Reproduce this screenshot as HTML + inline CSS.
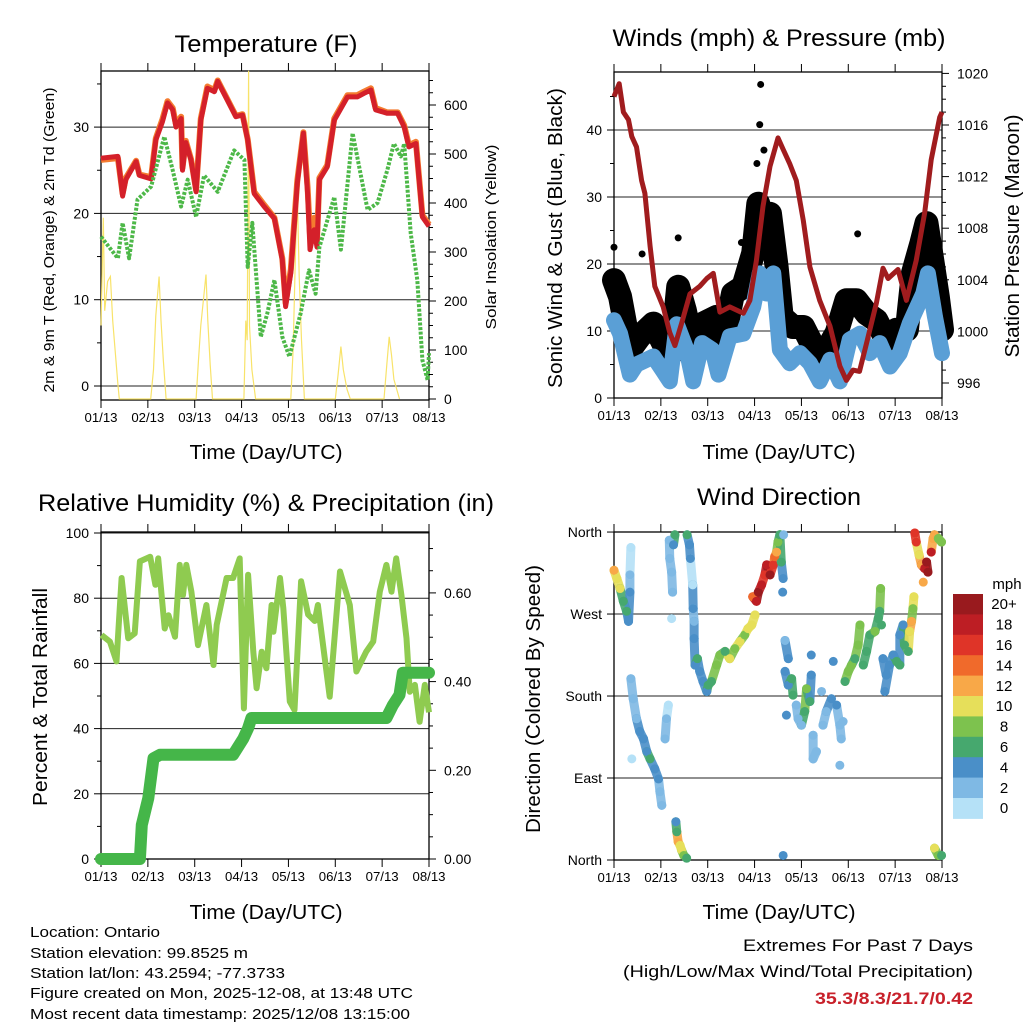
<!DOCTYPE html>
<html><head><meta charset="utf-8"><style>
html,body{margin:0;padding:0;background:#fff;}
svg{display:block;font-family:"Liberation Sans",Arial,sans-serif;}
</style></head><body>
<svg id="chart" xmlns="http://www.w3.org/2000/svg" width="1024" height="1024" viewBox="0 0 1024 1024">
<rect width="1024" height="1024" fill="#fff"/>
<g id="layer"></g>
<g id="texts" font-family="Liberation Sans, Arial, sans-serif" fill="#000">
 <text x="266" y="52" font-size="24" text-anchor="middle" textLength="183" lengthAdjust="spacingAndGlyphs">Temperature (F)</text>
 <text x="779" y="46" font-size="24" text-anchor="middle" textLength="333" lengthAdjust="spacingAndGlyphs">Winds (mph) &amp; Pressure (mb)</text>
 <text x="266" y="511" font-size="24" text-anchor="middle" textLength="456" lengthAdjust="spacingAndGlyphs">Relative Humidity (%) &amp; Precipitation (in)</text>
 <text x="779" y="505" font-size="24" text-anchor="middle" textLength="164" lengthAdjust="spacingAndGlyphs">Wind Direction</text>
 <text x="266" y="459" font-size="20" text-anchor="middle" textLength="153" lengthAdjust="spacingAndGlyphs">Time (Day/UTC)</text>
 <text x="779" y="459" font-size="20" text-anchor="middle" textLength="153" lengthAdjust="spacingAndGlyphs">Time (Day/UTC)</text>
 <text x="266" y="919" font-size="20" text-anchor="middle" textLength="153" lengthAdjust="spacingAndGlyphs">Time (Day/UTC)</text>
 <text x="779" y="919" font-size="20" text-anchor="middle" textLength="153" lengthAdjust="spacingAndGlyphs">Time (Day/UTC)</text>
 <text transform="translate(54,240) rotate(-90)" font-size="15" text-anchor="middle" textLength="305" lengthAdjust="spacingAndGlyphs">2m &amp; 9m T (Red, Orange) &amp; 2m Td (Green)</text>
 <text transform="translate(496,237) rotate(-90)" font-size="15" text-anchor="middle" textLength="185" lengthAdjust="spacingAndGlyphs">Solar Insolation (Yellow)</text>
 <text transform="translate(562,238) rotate(-90)" font-size="20" text-anchor="middle" textLength="300" lengthAdjust="spacingAndGlyphs">Sonic Wind &amp; Gust (Blue, Black)</text>
 <text transform="translate(1019,236) rotate(-90)" font-size="20" text-anchor="middle" textLength="243" lengthAdjust="spacingAndGlyphs">Station Pressure (Maroon)</text>
 <text transform="translate(47,697) rotate(-90)" font-size="20" text-anchor="middle" textLength="218" lengthAdjust="spacingAndGlyphs">Percent &amp; Total Rainfall</text>
 <text transform="translate(540,699) rotate(-90)" font-size="20" text-anchor="middle" textLength="268" lengthAdjust="spacingAndGlyphs">Direction (Colored By Speed)</text>
 <text x="30" y="937" font-size="15" textLength="130" lengthAdjust="spacingAndGlyphs">Location: Ontario</text>
 <text x="30" y="958" font-size="15" textLength="218" lengthAdjust="spacingAndGlyphs">Station elevation: 99.8525 m</text>
 <text x="30" y="978" font-size="15" textLength="255" lengthAdjust="spacingAndGlyphs">Station lat/lon: 43.2594; -77.3733</text>
 <text x="30" y="998" font-size="15" textLength="383" lengthAdjust="spacingAndGlyphs">Figure created on Mon, 2025-12-08, at 13:48 UTC</text>
 <text x="30" y="1019" font-size="15" textLength="380" lengthAdjust="spacingAndGlyphs">Most recent data timestamp: 2025/12/08 13:15:00</text>
 <text x="973" y="951" font-size="17" text-anchor="end" textLength="230" lengthAdjust="spacingAndGlyphs">Extremes For Past 7 Days</text>
 <text x="973" y="977" font-size="17" text-anchor="end" textLength="350" lengthAdjust="spacingAndGlyphs">(High/Low/Max Wind/Total Precipitation)</text>
 <text x="973" y="1004" font-size="17" font-weight="bold" fill="#c8202a" text-anchor="end" textLength="158" lengthAdjust="spacingAndGlyphs">35.3/8.3/21.7/0.42</text>
 <text x="1007" y="589" font-size="15" text-anchor="middle">mph</text>
</g>
</svg>
<script>
// ---------- DATA ----------
const xTickLabels = ["01/13","02/13","03/13","04/13","05/13","06/13","07/13","08/13"];
const tempTicks = [0,10,20,30];
const solarTicks = [0,100,200,300,400,500,600];
const windTicks = [0,10,20,30,40];
const pressTicks = [996,1000,1004,1008,1012,1016,1020];
const rhTicks = [0,20,40,60,80,100];
const precipTicks = [0.00,0.20,0.40,0.60];
const dirTicks = [0,90,180,270,360];
const dirLabels = ["North","East","South","West","North"];
const speedBins = ["0","2","4","6","8","10","12","14","16","18","20+"];
const speedColors = ["#b5e1f7","#7fb9e4","#4a8fc8","#46a86e","#7dc24e","#e6df5a","#f8a848","#f06a2b","#df3428","#bd1e24","#991a1e"];

const tempT = [0,.36,.46,.53,.75,.82,1.07,1.17,1.31,1.42,1.53,1.6,1.71,1.74,1.81,1.92,2.03,2.13,2.27,2.42,2.49,2.7,2.88,3.02,3.13,3.27,3.48,3.70,3.87,3.94,4.05,4.19,4.32,4.41,4.46,4.55,4.61,4.66,4.83,4.98,5.26,5.47,5.61,5.76,5.86,6.11,6.33,6.47,6.57,6.72,6.86,7.0];
const temp2m = [26.4,26.6,22.0,23.9,26.0,24.4,24.0,28.5,30.6,32.8,32.0,30.0,31.0,25.0,28.2,26.2,22.5,30.8,34.5,34.1,35.3,33.1,31.2,31.4,28.5,22.3,20.8,19.4,14.6,9.2,13.1,23.5,29.3,22.3,15.8,18.1,16.1,23.9,25.4,30.8,33.5,33.5,33.9,34.3,32.0,31.6,31.6,30.0,27.7,28.1,19.6,18.5];
const temp9m = [26.2,26.4,22.3,24.1,26.1,24.5,24.2,28.7,30.9,33.0,32.2,30.3,31.2,25.3,28.4,26.3,22.7,31.0,34.7,34.3,35.4,33.2,31.3,31.5,28.6,22.5,21.0,19.5,14.8,9.6,13.5,23.8,29.4,23.0,17.5,19.5,17.0,24.1,25.6,31.0,33.7,33.7,34.1,34.5,32.2,31.7,31.7,30.2,27.9,28.3,19.8,18.7];
const dewT = [0,.36,.46,.6,.78,1.07,1.35,1.53,1.71,1.85,2.03,2.2,2.49,2.84,3.06,3.13,3.23,3.41,3.55,3.70,3.87,4.02,4.26,4.44,4.58,4.66,4.98,5.12,5.37,5.69,5.9,6.11,6.25,6.4,6.47,6.61,6.75,6.86,6.97,7.0];
const dewPt = [17.3,14.8,18.9,14.8,21.6,23.1,28.9,25.0,20.8,23.9,19.6,24.4,22.5,27.3,26.2,13.8,18.9,5.7,8.4,12.3,5.7,3.4,8.4,13.4,10.7,16.1,21.9,15.8,29.3,20.4,21.2,25.0,28.1,26.6,28.1,17.7,12.3,3.0,0.7,3.8];
const solarT = [0,.05,.08,.14,.2,.25,.3,.36,.39, 1.06,1.12,1.17,1.24,1.28,1.33,1.39, 2.03,2.08,2.13,2.24,2.28,2.33,2.38, 3.05,3.09,3.12,3.15,3.17,3.22,3.3, 4.05,4.1,4.15,4.19,4.23,4.28,4.34, 5.0,5.06,5.12,5.17,5.25,5.32, 6.04,6.1,6.15,6.2,6.25,6.37];
const solarW = [150,370,180,240,250,160,100,30,0, 0,60,170,250,160,80,0, 0,80,150,254,160,70,0, 0,160,120,670,150,60,0, 0,100,300,420,250,120,0, 0,50,107,60,20,0, 0,70,127,90,40,0];

const windT = [0,.13,.34,.48,.84,1.05,1.19,1.34,1.55,1.69,1.88,2.1,2.23,2.47,2.76,2.97,3.11,3.25,3.40,3.54,3.75,3.97,4.18,4.39,4.61,4.82,5.03,5.25,5.46,5.67,5.89,6.1,6.31,6.6,6.7,6.85,7.0];
const windSpd = [11.6,9.6,3.5,5.0,6.2,4.0,2.5,11.0,7.2,2.5,8.2,7.2,3.5,9.2,9.6,13.6,18.6,15.6,18.6,7.2,5.2,6.7,5.2,2.5,5.7,2.5,8.7,9.6,6.7,8.2,4.7,6.7,11.1,15.6,18.6,12.1,6.7];
const gustT = [0,.13,.34,.55,.84,1.05,1.23,1.37,1.51,1.69,1.9,2.19,2.33,2.54,2.76,2.97,3.08,3.18,3.33,3.47,3.58,3.82,4.04,4.25,4.46,4.75,4.96,5.17,5.39,5.6,5.81,6.03,6.25,6.38,6.56,6.67,6.77,6.91,7.0];
const gustSpd = [17.6,15.1,7.2,9.2,11.1,8.2,6.7,16.6,13.1,7.2,11.1,12.1,8.2,15.6,16.6,21.6,29,26,27.5,19.6,12.1,10.6,10.6,7.7,6.2,9.7,14.6,14.6,12.6,11.6,8.7,10.2,10.2,18.6,23.1,26.1,21.6,15.1,10.2];
const gustOutT = [3.13,3.11,1.37,2.72,5.2,0.0,0.6,3.05,3.2];
const gustOutV = [46.8,40.8,23.9,23.2,24.5,22.5,21.5,35,37];
const pressT = [0,.11,.2,.31,.38,.48,.59,.66,.77,.87,1.05,1.19,1.3,1.44,1.62,1.83,1.98,2.12,2.26,2.47,2.76,2.9,3.04,3.18,3.33,3.5,3.61,3.75,3.89,4.04,4.18,4.39,4.61,4.82,4.96,5.1,5.24,5.39,5.6,5.74,5.85,6.06,6.24,6.45,6.63,6.77,6.95,7.0];
const pressMb = [1018.2,1019.2,1017.0,1016.4,1015.1,1014.3,1011.7,1010.7,1006.6,1003.5,1001.9,999.9,998.9,1000.6,1002.9,1003.5,1004.1,1004.5,1001.5,1001.9,1001.4,1002.4,1005.5,1009.7,1012.8,1015.0,1014.1,1013.0,1011.7,1008.6,1005.0,1002.4,1000.4,997.3,996.2,997.0,996.9,999.1,1002.2,1004.9,1004.1,1004.8,1002.4,1005.5,1009.2,1013.3,1016.6,1017.0];

const rhT = [.01,.19,.33,.44,.58,.72,.83,1.05,1.16,1.22,1.36,1.44,1.58,1.68,1.75,1.82,1.93,2.07,2.25,2.4,2.47,2.68,2.82,2.96,3.05,3.14,3.25,3.32,3.43,3.53,3.64,3.68,3.82,3.89,4.03,4.13,4.27,4.42,4.56,4.63,4.88,5.1,5.31,5.45,5.66,5.81,5.95,6.09,6.2,6.3,6.41,6.52,6.59,6.7,6.8,6.91,7.0];
const rhPct = [68.7,66.7,60.6,86.2,67.7,69.2,91.3,92.7,84.1,92.2,70.7,74.8,68.2,90.2,81.0,90.2,82,65.6,77.9,59.5,71.8,86.2,86.2,92.2,46.2,87.2,63.6,52.4,63.6,58.5,77.9,69.7,86.2,77,48.3,45.7,85.2,75,73,77.9,49.8,88.2,77.9,57.5,63.6,66.7,82,90.2,82,92.2,81,67.7,51.3,53.4,42.1,53.4,45];
const precipT = [0,.83,.87,1.01,1.12,1.26,1.4,2.82,3.04,3.14,3.21,6.09,6.23,6.37,6.44,7.0];
const precipIn = [0,0,0.077,0.137,0.227,0.235,0.235,0.235,0.272,0.295,0.318,0.318,0.347,0.37,0.42,0.42];

const dirT = [0,.06,.13,.2,.27,.31,.34,.34,.36,.36,.41,.48,.55,.63,.7,.77,.87,.95,.98,1.02,.38,1.09,1.12,1.16,1.18,1.19,1.23,1.25,1.23,1.27,1.3,1.32,1.34,1.37,1.41,1.44,1.49,1.55,1.56,1.61,1.63,1.68,1.69,1.71,1.71,1.73,1.78,1.83,1.9,1.98,2.01,2.08,2.19,2.26,2.37,2.47,2.58,2.69,2.79,2.86,2.94,3.01,2.96,3.04,3.08,3.15,3.22,3.26,3.33,3.40,3.43,3.47,3.50,3.54,3.57,3.61,3.60,3.62,3.65,3.72,3.65,3.72,3.79,3.82,3.68,3.89,3.93,4.00,4.07,4.11,4.18,4.21,4.25,4.25,4.32,4.43,4.46,4.53,4.64,4.68,4.75,4.82,4.85,4.82,4.89,4.21,3.61,4.93,5.00,5.07,5.14,5.21,5.25,5.32,5.39,5.46,5.57,5.64,5.67,5.69,5.71,5.74,5.81,5.78,5.88,5.96,6.03,6.10,6.10,6.17,6.20,6.28,6.31,6.35,6.38,6.40,6.42,6.45,6.51,6.56,6.63,6.67,6.70,6.60,6.77,6.81,6.84,6.92,6.99,6.84,6.92,6.99];
const dirDeg = [318,309,298,284,273,262,294,313,343,199,177,155,141,133,119,111,100,89,75,60,111,133,155,170,351,331,316,294,265,346,357,42,31,20,16,11,5,2,357,346,331,302,276,262,243,214,221,207,196,185,192,196,214,225,229,221,232,240,247,254,258,269,289,284,294,302,313,324,313,324,333,338,349,357,327,309,294,357,241,221,207,192,199,181,159,170,155,148,163,188,174,203,137,111,119,185,148,163,177,218,170,148,133,104,152,225,5,196,207,214,221,236,258,214,229,247,251,265,273,298,258,221,203,185,214,225,218,214,247,258,236,229,251,262,276,289,359,349,335,324,320,327,316,305,338,353,357,353,349,13,5,5];
const dirSpd = [13,11,10,7,6,4,4,3,1,2,2,3,4,4,5,6,5,4,3,2,1,3,2,1,2,2,3,3,1,4,6,4,6,12,10,11,8,6,7,5,4,1,4,3,4,4,6,5,4,4,6,7,8,9,7,10,9,10,9,10,11,11,14,19,21,18,17,18,20,16,14,12,8,7,7,5,4,2,3,4,4,5,6,6,4,3,2,3,6,8,7,5,2,2,2,2,2,3,4,4,4,3,3,2,3,4,4,6,9,8,7,9,8,6,6,7,8,6,6,8,6,4,5,4,4,5,6,6,4,4,7,6,11,12,8,10,16,17,10,12,19,20,20,12,18,12,12,8,8,10,8,6];

// ---------- HELPERS ----------
const NS = "http://www.w3.org/2000/svg";
const layer = document.getElementById("layer");
function mk(tag, attrs, parent) {
  const e = document.createElementNS(NS, tag);
  for (const k in attrs) e.setAttribute(k, attrs[k]);
  (parent || layer).appendChild(e);
  return e;
}
function lineTo(xs, ys) {
  let d = "";
  for (let i = 0; i < xs.length; i++) d += (i ? "L" : "M") + xs[i].toFixed(1) + "," + ys[i].toFixed(1);
  return d;
}
function colorFor(s) { return speedColors[Math.max(0, Math.min(10, Math.floor(s / 2)))]; }

const P = {
  temp: {x0:101,x1:429,y0:71,y1:400},
  wind: {x0:614,x1:942,y0:72,y1:398},
  rh:   {x0:101,x1:429,y0:532,y1:859},
  dir:  {x0:614,x1:942,y0:532,y1:860}
};
function xScale(p){ return t => p.x0 + t*(p.x1-p.x0)/7; }
const xTemp = xScale(P.temp), xWind = xScale(P.wind), xRh = xScale(P.rh), xDir = xScale(P.dir);
const yTemp = v => 386 - v*8.63;
const ySolar = w => 399 - w*0.49;
const yWind = v => 398 - v*6.7;
const yPress = p => 125 + (1016-p)*12.9;
const yRh = v => 859 - v*3.26;
const yPrecip = i => 859 - i*443.5;
const yDir = d => 860 - d*0.911;

function frame(p, name, xs) {
  const g = mk("g", {});
  
  
  for (let i = 0; i < 8; i++) {
    const x = xs(i);
    mk("line", {x1:x,y1:p.y1,x2:x,y2:p.y1+8,stroke:"#000","stroke-width":1}, g);
    mk("line", {x1:x,y1:p.y0,x2:x,y2:p.y0-8,stroke:"#000","stroke-width":1}, g);
    const t = mk("text", {x:x,y:p.y1+22,"font-size":13,"text-anchor":"middle",textLength:33,lengthAdjust:"spacingAndGlyphs"}, g);
    
    
    t.textContent = xTickLabels[i];
  }
  return g;
}
function box(p, g) {
  mk("rect", {x:p.x0,y:p.y0,width:p.x1-p.x0,height:p.y1-p.y0,fill:"none",stroke:"#000","stroke-width":1.3}, g);
}
function leftAxis(p, g, ticks, ys, labels, minorStep, grid) {
  ticks.forEach((v,i) => {
    const y = ys(v);
    if (grid) mk("line", {x1:p.x0,y1:y,x2:p.x1,y2:y,stroke:"#222","stroke-width":1}, g);
    mk("line", {x1:p.x0-7,y1:y,x2:p.x0,y2:y,stroke:"#000"}, g);
    const t = mk("text", {x:p.x0-12,y:y+5,"font-size":14,"text-anchor":"end"}, g);
    
    
    t.textContent = labels ? labels[i] : String(v);
    if (minorStep) {
      const ym = ys(v + minorStep);
      if (ym > p.y0 && ym < p.y1) mk("line", {x1:p.x0-4,y1:ym,x2:p.x0,y2:ym,stroke:"#000"}, g);
    }
  });
}
function rightAxis(p, g, ticks, ys, fmt, minorStep) {
  ticks.forEach(v => {
    const y = ys(v);
    mk("line", {x1:p.x1,y1:y,x2:p.x1+7,y2:y,stroke:"#000"}, g);
    const t = mk("text", {x:p.x1+15,y:y+5,"font-size":14,"text-anchor":"start"}, g);
    
    
    t.textContent = fmt(v);
    for (let k = 1; k < 4; k++) {
      const ym = ys(v + minorStep*k);
      if (ym > p.y0 && ym < p.y1) mk("line", {x1:p.x1,y1:ym,x2:p.x1+4,y2:ym,stroke:"#000"}, g);
    }
  });
}

// ---------- TEMPERATURE PANEL ----------
{
  const p = P.temp;
  const g = frame(p, "temperature", i => xTemp(i));
  leftAxis(p, g, tempTicks, yTemp, null, 5, true);
  rightAxis(p, g, solarTicks, ySolar, v => String(v), 25);
  const sol = mk("path", {d:lineTo(solarT.map(xTemp), solarW.map(ySolar)),fill:"none",stroke:"#f8e36a","stroke-width":1.2});
  
  
  const o = mk("path", {d:lineTo(tempT.map(xTemp), temp9m.map(yTemp)),fill:"none",stroke:"#f47c30","stroke-width":6,"stroke-linejoin":"round"});
  
  
  const r = mk("path", {d:lineTo(tempT.map(xTemp), temp2m.map(yTemp)),fill:"none",stroke:"#d4202a","stroke-width":5,"stroke-linejoin":"round"});
  
  
  const d = mk("path", {d:lineTo(dewT.map(xTemp), dewPt.map(yTemp)),fill:"none",stroke:"#4db848","stroke-width":4,"stroke-dasharray":"3 1.6","stroke-linejoin":"round"});
  
  
  box(p, g);
}

// ---------- WIND PANEL ----------
{
  const p = P.wind;
  const g = frame(p, "winds", i => xWind(i));
  leftAxis(p, g, windTicks, yWind, null, 5, true);
  rightAxis(p, g, pressTicks, yPress, v => String(v), 1);
  const gl = mk("path", {d:lineTo(gustT.map(xWind), gustSpd.map(yWind)),fill:"none",stroke:"#000","stroke-width":24,"stroke-linejoin":"round","stroke-linecap":"round"});
  
  
  gustOutT.forEach((t,i) => {
    const c = mk("circle", {cx:xWind(t),cy:yWind(gustOutV[i]),r:3.5,fill:"#000"});
    
    
  });
  const wl = mk("path", {d:lineTo(windT.map(xWind), windSpd.map(yWind)),fill:"none",stroke:"#5a9fd6","stroke-width":16,"stroke-linejoin":"round","stroke-linecap":"round"});
  
  
  const pl = mk("path", {d:lineTo(pressT.map(xWind), pressMb.map(yPress)),fill:"none",stroke:"#a01c1e","stroke-width":5,"stroke-linejoin":"round"});
  
  
  box(p, g);
}

// ---------- RH PANEL ----------
{
  const p = P.rh;
  const g = frame(p, "humidity", i => xRh(i));
  leftAxis(p, g, rhTicks, yRh, null, 10, true);
  rightAxis(p, g, precipTicks, yPrecip, v => v.toFixed(2), 0.05);
  const rl = mk("path", {d:lineTo(rhT.map(xRh), rhPct.map(yRh)),fill:"none",stroke:"#8fcb50","stroke-width":6,"stroke-linejoin":"round"});
  
  
  const pr = mk("path", {d:lineTo(precipT.map(xRh), precipIn.map(yPrecip)),fill:"none",stroke:"#45b649","stroke-width":12,"stroke-linejoin":"round","stroke-linecap":"round"});
  
  
  box(p, g);
}

// ---------- WIND DIRECTION PANEL ----------
{
  const p = P.dir;
  const g = frame(p, "wind-direction", i => xDir(i));
  leftAxis(p, g, dirTicks, yDir, dirLabels, 0, true);
  for (let i = 1; i < dirT.length; i++) {
    const dt = dirT[i] - dirT[i-1], dd = Math.abs(dirDeg[i] - dirDeg[i-1]);
    if (dt >= 0 && dt < 0.12 && dd < 35) {
      const s = mk("line", {x1:xDir(dirT[i-1]),y1:yDir(dirDeg[i-1]),x2:xDir(dirT[i]),y2:yDir(dirDeg[i]),stroke:colorFor(dirSpd[i]),"stroke-width":9,"stroke-linecap":"round",opacity:0.9});
      
      
    }
  }
  dirT.forEach((t,i) => {
    const c = mk("circle", {cx:xDir(t),cy:yDir(dirDeg[i]),r:4.5,fill:colorFor(dirSpd[i])});
    
    
  });
  box(p, g);
  const cb = mk("g", {});
  
  
  const h = 20.4;
  speedBins.forEach((lab, k) => {
    const idx = 10 - k;
    const y = 594 + k*h;
    const r = mk("rect", {x:953,y:y,width:30,height:h+0.5,fill:speedColors[idx]}, cb);
    
    
    const t = mk("text", {x:1004,y:y+h/2+5,"font-size":15,"text-anchor":"middle"}, cb);
    
    
    t.textContent = speedBins[idx];
  });
}
</script>
</body></html>
